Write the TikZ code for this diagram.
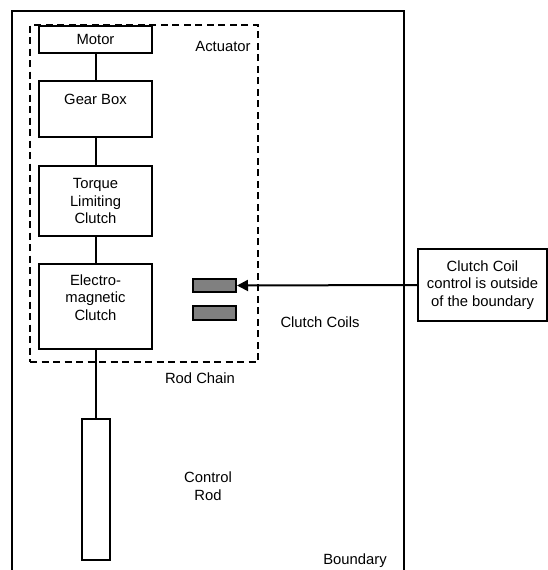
\documentclass[tikz,border=0pt]{standalone}
\usepackage{fontspec}
\setmainfont{Liberation Sans}
\usetikzlibrary{arrows.meta}
\definecolor{coilgray}{RGB}{128,128,128}
\begin{document}
\begin{tikzpicture}[x=1pt,y=-1pt,
  every node/.style={font=\fontsize{14.8}{17.5}\selectfont, align=center},
  blk/.style={draw, line width=2pt, inner sep=0pt},
  coil/.style={draw, line width=2pt, fill=coilgray, inner sep=0pt, minimum width=43pt},
  conn/.style={line width=2pt},
  plain/.style={inner sep=0pt}]
\useasboundingbox (0,0) rectangle (548,570);
% boundary (open at bottom)
\coordinate (bl) at (12,572);
\coordinate (br) at (404,572);
\draw[line width=2pt] (bl) -- (12,11) -- (404,11) -- (br);
% actuator dashed frame
\node[draw, line width=2pt, dash pattern=on 7pt off 4.5pt, minimum width=228pt, minimum height=337pt, inner sep=0pt] (act) at (144,193.5) {};
% blocks
\node[blk, minimum width=113pt, minimum height=27pt] (motor) at (95.5,39.5) {Motor};
\node[blk, minimum width=113pt, minimum height=56pt,
      label={[plain, yshift=10pt]center:Gear Box}] (gear) at (95.5,109) {};
\node[blk, minimum width=113pt, minimum height=70pt] (torque) at (95.5,201) {Torque\\Limiting\\Clutch};
\node[blk, minimum width=113pt, minimum height=85pt,
      label={[plain, yshift=9pt]center:Electro-\\magnetic\\Clutch}] (emc) at (95.5,306.5) {};
\node[blk, minimum width=28pt, minimum height=141pt] (rod) at (95.5,489.5) {};
% coils
\node[coil, minimum height=13pt] (coil1) at (214.5,285.5) {};
\node[coil, minimum height=14pt] (coil2) at (214.5,313) {};
% note
\node[blk, minimum width=129pt, minimum height=72pt] (note) at (482.5,285) {Clutch Coil\\control is outside\\of the boundary};
% connectors
\draw[conn] (motor) -- (gear);
\draw[conn] (gear) -- (torque);
\draw[conn] (torque) -- (emc);
\draw[conn] (emc) -- (rod);
\draw[conn, -{Triangle[length=11pt,width=11pt]}] (note.west) -- (coil1.east);
% labels
\node[plain] (lact) at (223,46) {Actuator};
\node[plain] (lcoils) at (320,322) {Clutch Coils};
\node[plain] (lchain) at (200,378) {Rod Chain};
\node[plain] (lrod) at (208,486) {Control\\Rod};
\node[plain] (lbound) at (355,561) {Boundary};
\end{tikzpicture}
\end{document}
